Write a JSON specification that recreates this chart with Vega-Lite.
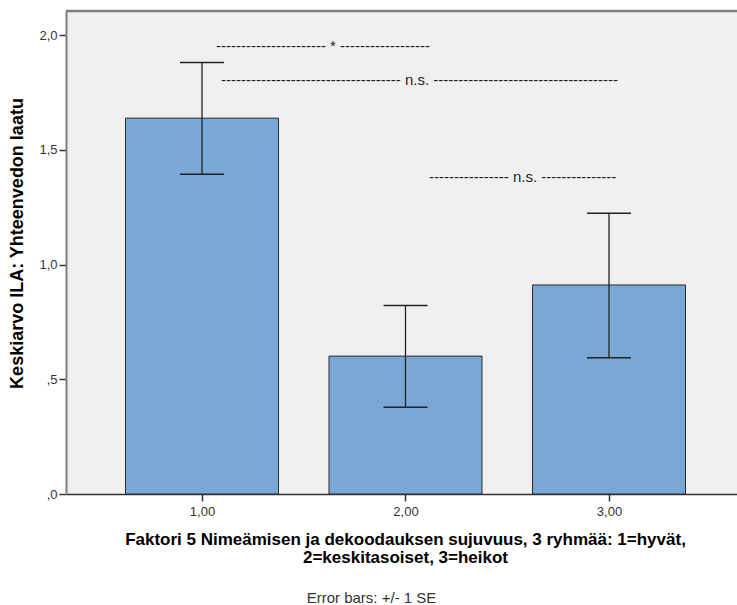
{
  "$schema": "https://vega.github.io/schema/vega-lite/v6.json",
  "autosize": {"type": "none"},
  "padding": {"left": 66, "top": 11, "right": 0, "bottom": 111},
  "width": 671,
  "height": 483,
  "background": "#ffffff",
  "config": {
    "view": {"stroke": null, "fill": "#f0f0f0"},
    "font": "Liberation Sans"
  },
  "title": {
    "text": "Error bars: +/- 1 SE",
    "orient": "bottom",
    "anchor": "middle",
    "dx": -30,
    "offset": 26,
    "fontSize": 15,
    "fontWeight": "normal",
    "color": "#333333",
    "font": "Liberation Sans"
  },
  "layer": [
    {
      "data": {"values": [
        {"grupp": 1, "mean": 1.638, "lo": 1.394, "hi": 1.881},
        {"grupp": 2, "mean": 0.601, "lo": 0.378, "hi": 0.822},
        {"grupp": 3, "mean": 0.911, "lo": 0.594, "hi": 1.224}
      ]},
      "layer": [
        {
          "mark": {"type": "bar", "width": 153, "fill": "#79a8d6", "stroke": "#2b2b2b", "strokeWidth": 1, "orient": "vertical"},
          "encoding": {
            "x": {
              "field": "grupp", "type": "quantitative",
              "scale": {"domain": [0.3317, 3.629], "nice": false, "zero": false, "padding": 0},
              "axis": {
                "values": [1, 2, 3],
                "labelExpr": "replace(format(datum.value,'.2f'),'.',',')",
                "grid": false,
                "domainColor": "#333333", "domainWidth": 1.5,
                "tickColor": "#333333", "tickSize": 7, "tickWidth": 1.5,
                "labelFontSize": 13, "labelColor": "#333333", "labelPadding": 4,
                "labelFont": "Liberation Sans",
                "title": ["Faktori 5 Nimeämisen ja dekoodauksen sujuvuus, 3 ryhmää: 1=hyvät,", "2=keskitasoiset, 3=heikot"],
                "titleFont": "Liberation Sans",
                "titleFontSize": 17, "titleFontWeight": "bold", "titleColor": "#000000",
                "titleLineHeight": 18, "titlePadding": 13, "titleX": 339
              }
            },
            "y": {
              "field": "mean", "type": "quantitative",
              "scale": {"domain": [0, 2.105], "nice": false, "padding": 0},
              "axis": {
                "values": [0, 0.5, 1, 1.5, 2],
                "labelExpr": "datum.value < 1 ? replace(format(datum.value,'.1f'),'0.',',') : replace(format(datum.value,'.1f'),'.',',')",
                "grid": false,
                "domainColor": "#7f7f7f", "domainWidth": 2,
                "tickColor": "#333333", "tickSize": 7, "tickWidth": 1.5,
                "labelFontSize": 13, "labelColor": "#333333", "labelPadding": 2,
                "labelFont": "Liberation Sans",
                "title": "Keskiarvo ILA: Yhteenvedon laatu",
                "titleFont": "Liberation Sans",
                "titleFontSize": 18, "titleFontWeight": "bold", "titleColor": "#000000",
                "titlePadding": 12, "titleY": 232
              }
            }
          }
        },
        {
          "mark": {"type": "rule", "color": "#222222", "strokeWidth": 1.3},
          "encoding": {
            "x": {"field": "grupp", "type": "quantitative"},
            "y": {"field": "lo", "type": "quantitative"},
            "y2": {"field": "hi"}
          }
        },
        {
          "mark": {"type": "tick", "orient": "horizontal", "size": 44, "thickness": 1.5, "color": "#222222", "opacity": 1},
          "encoding": {
            "x": {"field": "grupp", "type": "quantitative"},
            "y": {"field": "lo", "type": "quantitative"}
          }
        },
        {
          "mark": {"type": "tick", "orient": "horizontal", "size": 44, "thickness": 1.5, "color": "#222222", "opacity": 1},
          "encoding": {
            "x": {"field": "grupp", "type": "quantitative"},
            "y": {"field": "hi", "type": "quantitative"}
          }
        }
      ]
    },
    {
      "data": {"values": [
        {"label": "---------------------- * ------------------", "xstart": 1.069, "ypos": 1.952},
        {"label": "------------------------------------ n.s. -------------------------------------", "xstart": 1.093, "ypos": 1.804},
        {"label": "---------------- n.s. ---------------", "xstart": 2.115, "ypos": 1.381}
      ]},
      "mark": {"type": "text", "align": "left", "baseline": "middle", "fontSize": 15, "color": "#1e1e1e", "font": "Liberation Sans"},
      "encoding": {
        "x": {"field": "xstart", "type": "quantitative"},
        "y": {"field": "ypos", "type": "quantitative"},
        "text": {"field": "label"}
      }
    },
    {
      "data": {"values": [{"top": 2.105}]},
      "mark": {"type": "rule", "color": "#7f7f7f", "strokeWidth": 2.5},
      "encoding": {
        "y": {"field": "top", "type": "quantitative"}
      }
    }
  ]
}
